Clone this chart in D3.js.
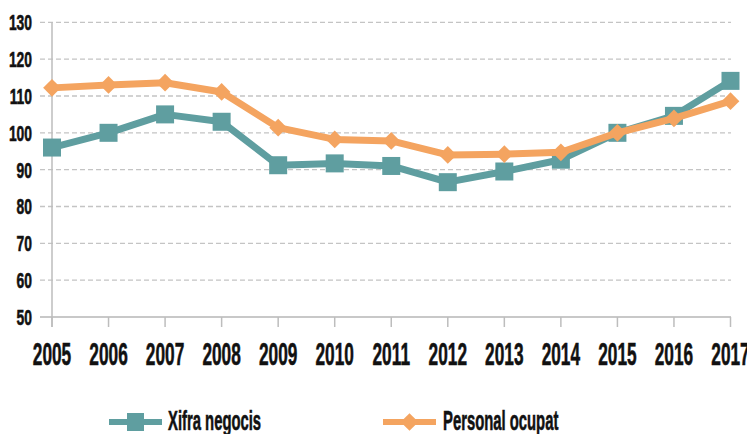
<!DOCTYPE html>
<html>
<head>
<meta charset="utf-8">
<script src="https://cdn.jsdelivr.net/npm/d3@7"></script>
<style>
  body { margin: 0; background: #fff; }
  svg { display: block; font-family: "Liberation Sans", Arial, sans-serif; }
</style>
</head>
<body>
<svg id="chart" width="747" height="434"></svg>
<script>
    // data
    var years = [2005, 2006, 2007, 2008, 2009, 2010, 2011, 2012, 2013, 2014, 2015, 2016, 2017];
    var xifraNegocis = [96.0, 100.0, 105.0, 103.0, 91.2, 91.7, 91.0, 86.6, 89.5, 92.7, 100.0, 104.6, 114.1];
    var personalOcupat = [112.2, 113.0, 113.6, 111.1, 101.4, 98.2, 97.8, 94.0, 94.2, 94.7, 100.0, 103.9, 108.6];
    var yTicks = [50, 60, 70, 80, 90, 100, 110, 120, 130];
    var seriesNames = ["Xifra negocis", "Personal ocupat"];

    var tealColor = "#5f9ea0",
        orangeColor = "#f4a460";

    var svg = d3.select("#chart");

    var x = d3.scalePoint().domain(years).range([52, 730.5]);
    var y = d3.scaleLinear().domain([50, 130]).range([317, 22.3]);

    // condensed looking text: bold sans squeezed horizontally
    function condText(g, tx, ty, str, size, sx, anchor) {
        return g.append("text")
            .attr("transform", "translate(" + tx + "," + ty + ") scale(" + sx + ",1)")
            .attr("text-anchor", anchor)
            .attr("font-size", size)
            .attr("font-weight", "bold")
            .attr("fill", "#111")
            .attr("stroke", "#111")
            .attr("stroke-width", 0.6)
            .text(str);
    }

    // horizontal grid
    var grid = svg.append("g");
    grid.selectAll("line")
        .data(yTicks.filter(d => d > 50))
        .enter().append("line")
        .attr("x1", 40)
        .attr("x2", 731)
        .attr("y1", d => y(d))
        .attr("y2", d => y(d))
        .attr("stroke", "#c4c4c4")
        .attr("stroke-width", 1.3)
        .attr("stroke-dasharray", "5,3");

    // baseline
    svg.append("line")
        .attr("x1", 40).attr("x2", 731)
        .attr("y1", y(50)).attr("y2", y(50))
        .attr("stroke", "#c8c8c8")
        .attr("stroke-width", 2);

    // y axis line
    svg.append("line")
        .attr("x1", x(2005)).attr("x2", x(2005))
        .attr("y1", y(130)).attr("y2", y(50) + 10)
        .attr("stroke", "#bdbdbd")
        .attr("stroke-width", 1.5);

    // x ticks
    svg.append("g").selectAll("line")
        .data(years)
        .enter().append("line")
        .attr("x1", d => x(d)).attr("x2", d => x(d))
        .attr("y1", y(50)).attr("y2", y(50) + 10)
        .attr("stroke", "#bdbdbd")
        .attr("stroke-width", 1.5);

    // tick labels
    var labels = svg.append("g");
    yTicks.forEach(function(t) {
        condText(labels, 32, y(t) + 8, t, 22, 0.63, "end");
    });
    years.forEach(function(yr) {
        condText(labels, x(yr), 365, yr, 32, 0.54, "middle");
    });

    var line = d3.line()
        .x((d, i) => x(years[i]))
        .y(d => y(d));

    // Xifra negocis
    svg.append("path")
        .datum(xifraNegocis)
        .attr("d", line)
        .attr("fill", "none")
        .attr("stroke", tealColor)
        .attr("stroke-width", 7)
        .attr("stroke-linejoin", "round");
    svg.append("g").selectAll("rect")
        .data(xifraNegocis)
        .enter().append("rect")
        .attr("x", (d, i) => x(years[i]) - 9)
        .attr("y", d => y(d) - 9)
        .attr("width", 18)
        .attr("height", 18)
        .attr("fill", tealColor);

    // Personal ocupat
    var diamond = d3.symbol().type(d3.symbolDiamond2).size(200);
    svg.append("path")
        .datum(personalOcupat)
        .attr("d", line)
        .attr("fill", "none")
        .attr("stroke", orangeColor)
        .attr("stroke-width", 7)
        .attr("stroke-linejoin", "round");
    svg.append("g").selectAll("path")
        .data(personalOcupat)
        .enter().append("path")
        .attr("d", diamond)
        .attr("transform", (d, i) => "translate(" + x(years[i]) + "," + y(d) + ")")
        .attr("fill", orangeColor);

    // legend
    var leg = svg.append("g");
    leg.append("line")
        .attr("x1", 109).attr("x2", 162).attr("y1", 422).attr("y2", 422)
        .attr("stroke", tealColor).attr("stroke-width", 6);
    leg.append("rect")
        .attr("x", 127).attr("y", 413).attr("width", 17).attr("height", 18)
        .attr("fill", tealColor);
    condText(leg, 168, 430, seriesNames[0], 28, 0.53, "start");

    leg.append("line")
        .attr("x1", 383).attr("x2", 436).attr("y1", 422).attr("y2", 422)
        .attr("stroke", orangeColor).attr("stroke-width", 6);
    leg.append("path")
        .attr("d", diamond)
        .attr("transform", "translate(409.5,422)")
        .attr("fill", orangeColor);
    condText(leg, 443, 430, seriesNames[1], 28, 0.53, "start");
</script>
</body>
</html>
